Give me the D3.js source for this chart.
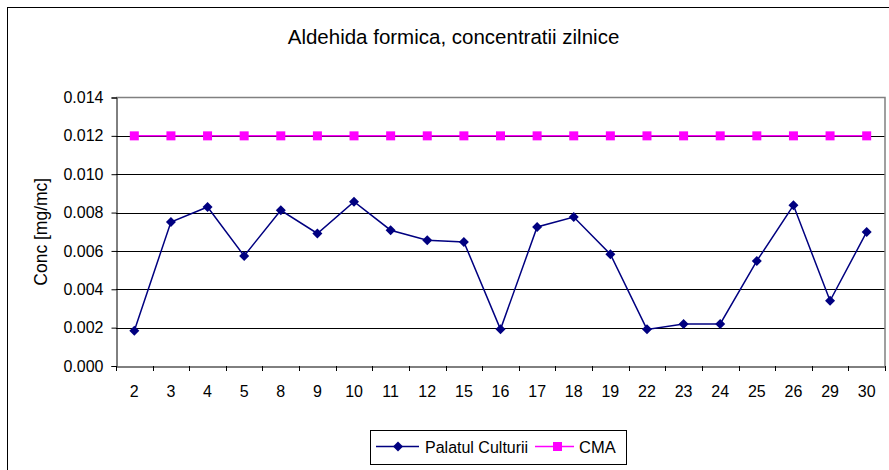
<!DOCTYPE html>
<html>
<head>
<meta charset="utf-8">
<script src="https://cdn.jsdelivr.net/npm/d3@7"></script>
<style>
  body { margin: 0; background: #fff; }
  svg { display: block; font-family: "Liberation Sans", Arial, sans-serif; }
</style>
</head>
<body>
<svg id="chart" width="889" height="470"></svg>
<script>
const categories = ["2","3","4","5","8","9","10","11","12","15","16","17","18","19","22","23","24","25","26","29","30"];
const palatulCulturii = [0.00184,0.00751,0.00829,0.00574,0.00812,0.00691,0.00857,0.00708,0.00656,0.00647,0.00191,0.00725,0.00777,0.00583,0.00191,0.00219,0.00219,0.00548,0.00838,0.0034,0.00699];
const cma = [0.012,0.012,0.012,0.012,0.012,0.012,0.012,0.012,0.012,0.012,0.012,0.012,0.012,0.012,0.012,0.012,0.012,0.012,0.012,0.012,0.012];
const yTicks = [0, 0.002, 0.004, 0.006, 0.008, 0.010, 0.012, 0.014];
const seriesNames = ["Palatul Culturii", "CMA"];
const titleText = "Aldehida formica, concentratii zilnice";
const yTitle = "Conc [mg/mc]";

const svg = d3.select("#chart");
const pLeft = 116, pRight = 885, pTop = 97.5, pBottom = 366;
const FONT = "Liberation Sans, Arial, sans-serif";

// outer frame
svg.append("rect").attr("x", 7.5).attr("y", 7.5).attr("width", 900).attr("height", 500)
  .attr("fill", "#fff").attr("stroke", "#000").attr("stroke-width", 1);

const x = d3.scaleBand().domain(categories).range([pLeft, pRight]).padding(0);
const y = d3.scaleLinear().domain([0, 0.014]).range([pBottom, pTop]);

// gridlines
svg.append("g").selectAll("line").data(yTicks.filter(t => t > 0 && t < 0.014)).join("line")
  .attr("x1", pLeft).attr("x2", pRight)
  .attr("y1", d => Math.round(y(d)) + 0.5).attr("y2", d => Math.round(y(d)) + 0.5)
  .attr("stroke", "#000").attr("stroke-width", 1);

// plot area border (gray)
svg.append("path")
  .attr("d", `M${pLeft},${pTop}H${pRight}V${pBottom}`)
  .attr("fill", "none").attr("stroke", "#808080").attr("stroke-width", 1.5);

// y axis
const yAxis = d3.axisLeft(y).tickValues(yTicks).tickFormat(d3.format(".3f")).tickSizeOuter(0).tickSize(5).tickPadding(8);
const gy = svg.append("g").attr("transform", `translate(${pLeft + 0.5},0)`).call(yAxis);
gy.select(".domain").attr("stroke", "#000");
gy.selectAll(".tick line").attr("stroke", "#000");
gy.selectAll(".tick text").attr("font-size", 16).attr("fill", "#000").attr("font-family", FONT);

// x axis
const xAxis = d3.axisBottom(x).tickSize(0).tickPadding(19);
const gx = svg.append("g").attr("transform", `translate(0,${Math.round(pBottom) + 0.5})`).call(xAxis);
gx.select(".domain").attr("stroke", "#000");
gx.selectAll(".tick text").attr("font-size", 16).attr("fill", "#000").attr("font-family", FONT);
// boundary ticks between categories
const bounds = categories.map(c => x(c)).concat([pRight]);
svg.append("g").selectAll("line").data(bounds).join("line")
  .attr("x1", d => Math.round(d) + 0.5).attr("x2", d => Math.round(d) + 0.5)
  .attr("y1", pBottom).attr("y2", pBottom + 5)
  .attr("stroke", "#000");

const cx = c => x(c) + x.bandwidth() / 2;

// CMA series
svg.append("path").datum(cma)
  .attr("d", d3.line().x((d, i) => cx(categories[i])).y(d => y(d)))
  .attr("fill", "none").attr("stroke", "#FF00FF").attr("stroke-width", 1.5);
svg.append("g").selectAll("rect").data(cma).join("rect")
  .attr("x", (d, i) => cx(categories[i]) - 4.5).attr("y", d => y(d) - 4.5)
  .attr("width", 9).attr("height", 9).attr("fill", "#FF00FF");

// Palatul Culturii series
svg.append("path").datum(palatulCulturii)
  .attr("d", d3.line().x((d, i) => cx(categories[i])).y(d => y(d)))
  .attr("fill", "none").attr("stroke", "#000080").attr("stroke-width", 1.5);
svg.append("g").selectAll("path").data(palatulCulturii).join("path")
  .attr("d", d3.symbol().type(d3.symbolSquare).size(50))
  .attr("transform", (d, i) => `translate(${cx(categories[i])},${y(d)}) rotate(45)`)
  .attr("fill", "#000080");

// title
svg.append("text").attr("x", 453.5).attr("y", 44).attr("text-anchor", "middle")
  .attr("font-size", 20.5).attr("fill", "#000").text(titleText);

// y axis title
svg.append("text").attr("transform", `translate(47,${(pTop + pBottom) / 2}) rotate(-90)`)
  .attr("text-anchor", "middle").attr("font-size", 17.5).attr("fill", "#000").text(yTitle);

// legend
const lg = svg.append("g");
lg.append("rect").attr("x", 370.5).attr("y", 430.5).attr("width", 256).attr("height", 34)
  .attr("fill", "#fff").attr("stroke", "#000").attr("stroke-width", 1);
lg.append("line").attr("x1", 376).attr("x2", 419).attr("y1", 446.5).attr("y2", 446.5)
  .attr("stroke", "#000080").attr("stroke-width", 1.5);
lg.append("path").attr("d", d3.symbol().type(d3.symbolSquare).size(50))
  .attr("transform", "translate(398,446.5) rotate(45)").attr("fill", "#000080");
lg.append("text").attr("x", 425).attr("y", 453).attr("font-size", 16).attr("fill", "#000").text(seriesNames[0]);
lg.append("line").attr("x1", 535).attr("x2", 574).attr("y1", 446.5).attr("y2", 446.5)
  .attr("stroke", "#FF00FF").attr("stroke-width", 1.5);
lg.append("rect").attr("x", 553).attr("y", 442).attr("width", 9).attr("height", 9).attr("fill", "#FF00FF");
lg.append("text").attr("x", 579).attr("y", 453).attr("font-size", 16.5).attr("fill", "#000").text(seriesNames[1]);
</script>
</body>
</html>
